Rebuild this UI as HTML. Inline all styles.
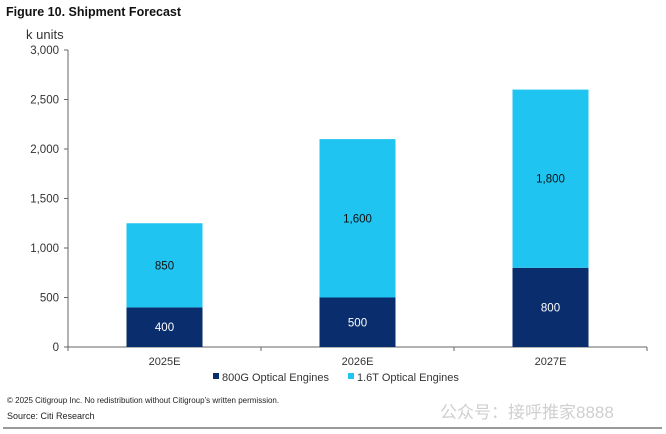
<!DOCTYPE html>
<html><head><meta charset="utf-8"><style>
body{margin:0;background:#fff;width:666px;height:434px;overflow:hidden;font-family:"Liberation Sans","Noto Sans CJK SC",sans-serif;}
svg{display:block}
</style></head><body>
<svg width="666" height="434" id="c">
<text x="6" y="16" font-size="12.5" font-weight="bold" fill="#111">Figure 10. Shipment Forecast</text>
<text x="26" y="39" font-size="13" fill="#333">k units</text>
<g id="axes"></g>
<g id="bars"></g>
<g>
<rect x="213" y="373" width="6" height="6" fill="#0a2d6e"/>
<text x="222" y="381" font-size="11" fill="#333">800G Optical Engines</text>
<rect x="348" y="373" width="6" height="6" fill="#1fc4f0"/>
<text x="357" y="381" font-size="11" fill="#333">1.6T Optical Engines</text>
</g>
<text x="7" y="403" font-size="8" fill="#222">© 2025 Citigroup Inc. No redistribution without Citigroup’s written permission.</text>
<text x="7" y="419" font-size="9" fill="#222">Source: Citi Research</text>
<text x="440" y="418" font-size="17" fill="#bbb" opacity="0.7">公众号：接呼推家8888</text>
<line x1="3" y1="428" x2="662" y2="428" stroke="#333" stroke-width="1"/>
</svg>
<script>
const categories=["2025E","2026E","2027E"];
const v800=[400,500,800];
const v16=[850,1600,1800];
const yTicks=[0,500,1000,1500,2000,2500,3000];
const yTickLabels=["0","500","1,000","1,500","2,000","2,500","3,000"];
const NS="http://www.w3.org/2000/svg";
const x0=68,x1=647,y0=347,yTop=50,yMax=3000;
const y=v=>y0-(v/yMax)*(y0-yTop);
const band=(x1-x0)/categories.length;
const cx=i=>x0+band*(i+0.5);
const bw=76;
function mk(tag,attrs,parent){const e=document.createElementNS(NS,tag);for(const k in attrs)e.setAttribute(k,attrs[k]);parent.appendChild(e);return e;}
const ax=document.getElementById('axes'),bg=document.getElementById('bars');
let l=mk('line',{x1:x0,y1:yTop,x2:x0,y2:y0,stroke:'#666'},ax);


l=mk('line',{x1:x0,y1:y0,x2:x1,y2:y0,stroke:'#666'},ax);


yTicks.forEach((t,i)=>{
 const tk=mk('line',{x1:x0-4,y1:y(t),x2:x0,y2:y(t),stroke:'#666'},ax);
 
 
 const tx=mk('text',{x:x0-9,y:y(t)+4,'font-size':11.5,'text-anchor':'end',fill:'#333'},ax);
 tx.textContent=yTickLabels[i];
 
 
});
for(let i=0;i<=categories.length;i++){
 const tk=mk('line',{x1:x0+band*i,y1:y0,x2:x0+band*i,y2:y0+4,stroke:'#666'},ax);
 
 
}
categories.forEach((c,i)=>{
 const tx=mk('text',{x:cx(i),y:y0+18,'font-size':11,'text-anchor':'middle',fill:'#333'},ax);
 tx.textContent=c;
 
 
 const a=v800[i],b=v16[i];
 const r1=mk('rect',{x:cx(i)-bw/2,y:y(a),width:bw,height:y0-y(a),fill:'#0a2d6e'},bg);
 
 
 const r2=mk('rect',{x:cx(i)-bw/2,y:y(a+b),width:bw,height:y(a)-y(a+b),fill:'#1fc4f0'},bg);
 
 
 const t1=mk('text',{x:cx(i),y:(y(a)+y0)/2+4,'font-size':11.5,'text-anchor':'middle',fill:'#fff'},bg);
 t1.textContent=a.toLocaleString('en-US');
 
 
 const t2=mk('text',{x:cx(i),y:(y(a)+y(a+b))/2+4,'font-size':11.5,'text-anchor':'middle',fill:'#111'},bg);
 t2.textContent=b.toLocaleString('en-US');
 
 
});
</script>
</body></html>
